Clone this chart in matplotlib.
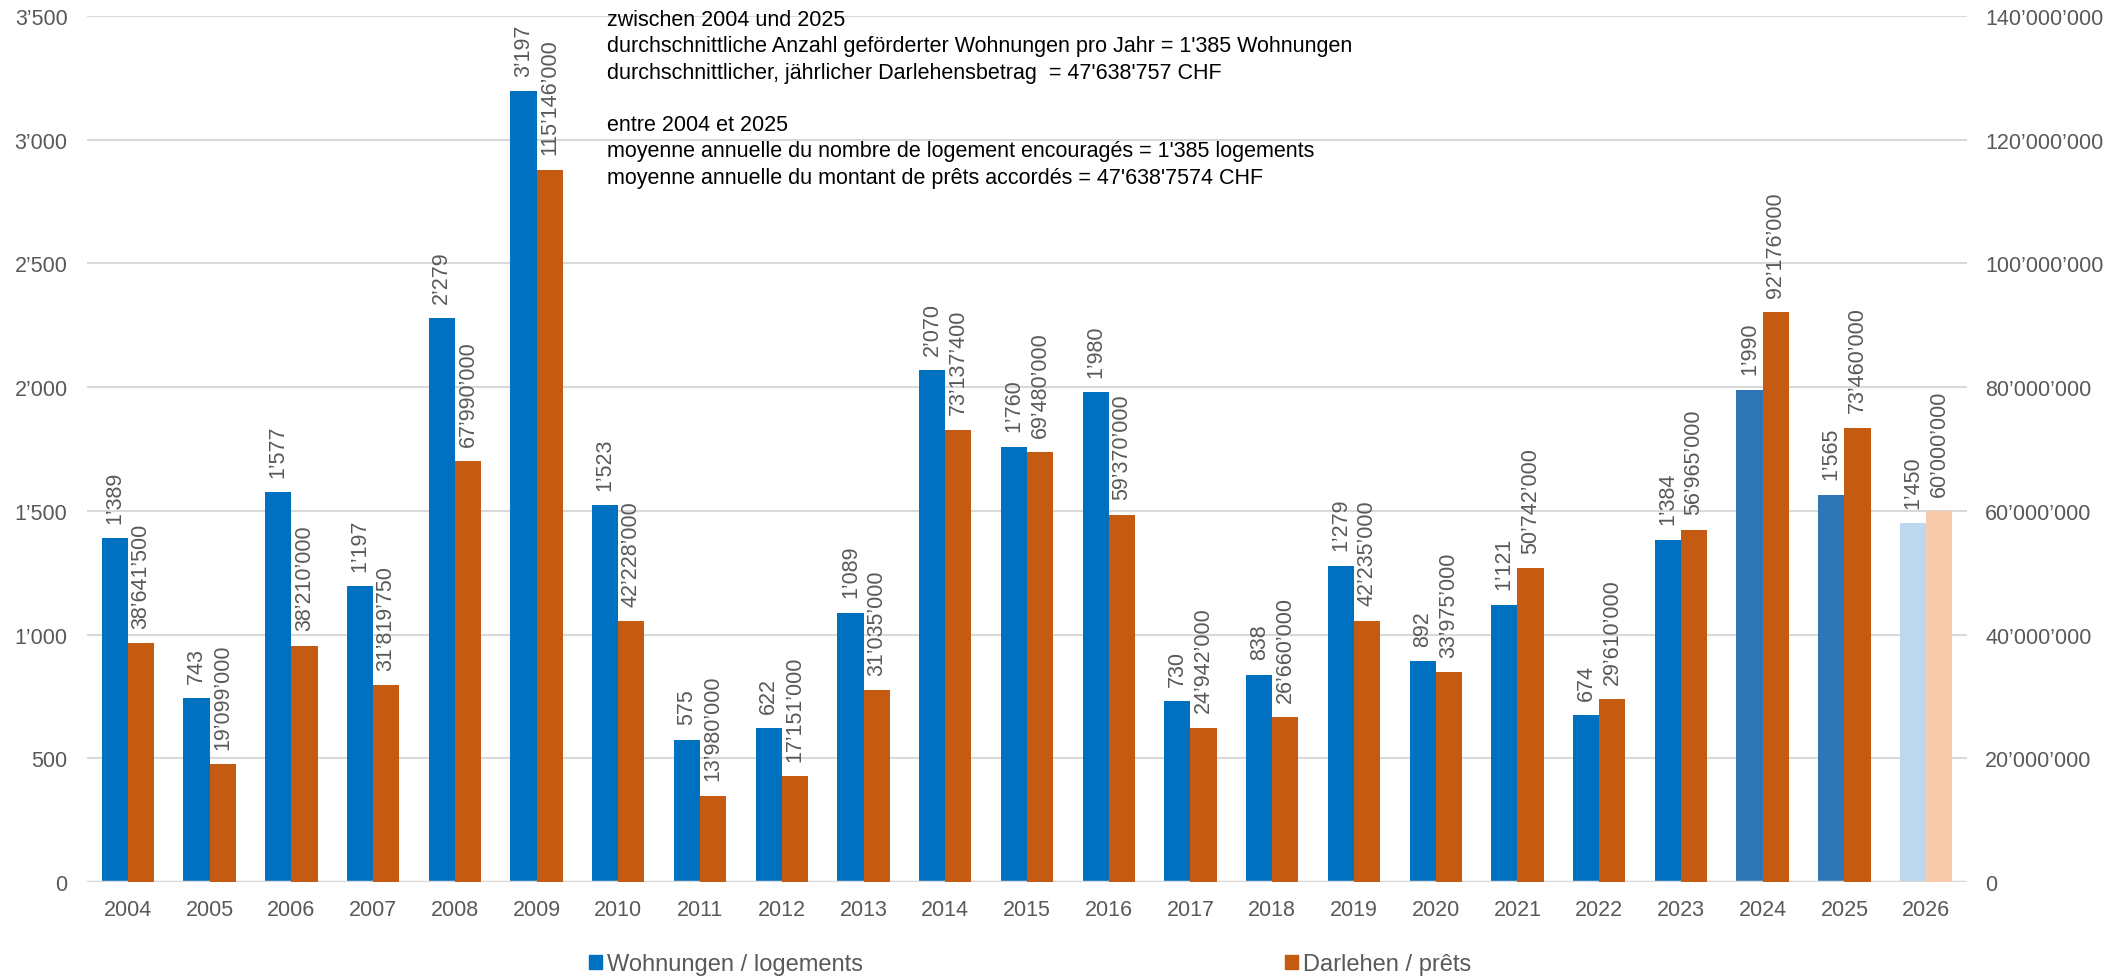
import numpy as np
import matplotlib
matplotlib.use("Agg")
import matplotlib.pyplot as plt
from matplotlib.patches import Patch

plt.rcParams['font.family'] = ['Liberation Sans', 'DejaVu Sans']

years = ['2004', '2005', '2006', '2007', '2008', '2009', '2010', '2011', '2012', '2013', '2014',
         '2015', '2016', '2017', '2018', '2019', '2020', '2021', '2022', '2023', '2024', '2025', '2026']
wohnungen = [1389, 743, 1577, 1197, 2279, 3197, 1523, 575, 622, 1089, 2070,
             1760, 1980, 730, 838, 1279, 892, 1121, 674, 1384, 1990, 1565, 1450]
darlehen = [38641500, 19099000, 38210000, 31819750, 67990000, 115146000, 42228000, 13980000,
            17151000, 31035000, 73137400, 69480000, 59370000, 24942000, 26660000, 42235000,
            33975000, 50742000, 29610000, 56965000, 92176000, 73460000, 60000000]

note = ("zwischen 2004 und 2025\n"
        "durchschnittliche Anzahl geförderter Wohnungen pro Jahr = 1'385 Wohnungen\n"
        "durchschnittlicher, jährlicher Darlehensbetrag  = 47'638'757 CHF\n"
        "\n"
        "entre 2004 et 2025\n"
        "moyenne annuelle du nombre de logement encouragés = 1'385 logements\n"
        "moyenne annuelle du montant de prêts accordés = 47'638'7574 CHF")

GREY = '#595959'
GRID = '#D9D9D9'


def fmt(v):
    return f"{int(v):,}".replace(",", "\u2019")


# couleurs: 2024/2025 bleu plus clair, 2026 (prévision) pastel
blue_cols = []
orange_cols = []
for y in years:
    if y == '2026':
        blue_cols.append('#BDD7EE')
        orange_cols.append('#F8CBAD')
    elif y in ('2024', '2025'):
        blue_cols.append('#2E75B6')
        orange_cols.append('#C55A11')
    else:
        blue_cols.append('#0070C0')
        orange_cols.append('#C55A11')

fig = plt.figure(figsize=(21.28, 9.78), dpi=100)
ax = fig.add_axes([87 / 2128, 95 / 978, 1880 / 2128, (883 - 17) / 978])
ax2 = ax.twinx()

x = np.arange(len(years))
w = 0.32
ax.bar(x - w / 2, wohnungen, w, color=blue_cols, zorder=3)
ax2.bar(x + w / 2, darlehen, w, color=orange_cols, zorder=3)

ax.set_ylim(0, 3500)
ax2.set_ylim(0, 140000000)
ax.set_xlim(-0.5, len(years) - 0.5)
ax.set_yticks(np.arange(0, 3501, 500))
ax2.set_yticks(np.arange(0, 140000001, 20000000))
ax.set_yticklabels([fmt(v) for v in ax.get_yticks()])
ax2.set_yticklabels([fmt(v) for v in ax2.get_yticks()])
ax.set_xticks(x)
ax.set_xticklabels(years)

ax.grid(axis='y', color=GRID, linewidth=1.5, zorder=0)
ax.set_axisbelow(True)
for a in (ax, ax2):
    for s in a.spines.values():
        s.set_visible(False)
    a.tick_params(length=0, colors=GREY, labelsize=15.5)
ax.tick_params(axis='y', pad=14)
ax2.tick_params(axis='y', pad=13)
ax.tick_params(axis='x', pad=12)
ax.axhline(0, color=GRID, linewidth=2.5, zorder=4)

for i in range(len(years)):
    ax.annotate(fmt(wohnungen[i]), (x[i] - w / 2, wohnungen[i]), xytext=(0, 11),
                textcoords='offset points', rotation=90, ha='center', va='bottom',
                fontsize=15.5, color=GREY, zorder=5)
    ax2.annotate(fmt(darlehen[i]), (x[i] + w / 2, darlehen[i]), xytext=(0, 11),
                 textcoords='offset points', rotation=90, ha='center', va='bottom',
                 fontsize=15.5, color=GREY, zorder=5)

fig.text(607 / 2128, 1 - 10 / 978, note, ha='left', va='top', fontsize=15.5,
         color='black', linespacing=1.33)

handles = [Patch(color='#0070C0', label='Wohnungen / logements'),
           Patch(color='#C55A11', label='Darlehen / prêts')]
fig.legend(handles=handles, loc='center', bbox_to_anchor=(0.484, 0.013), ncol=2,
           frameon=False, fontsize=17, labelcolor=GREY, handlelength=0.55,
           handleheight=0.55, handletextpad=0.2, columnspacing=17.9)

fig.savefig('out.png', dpi=100)
